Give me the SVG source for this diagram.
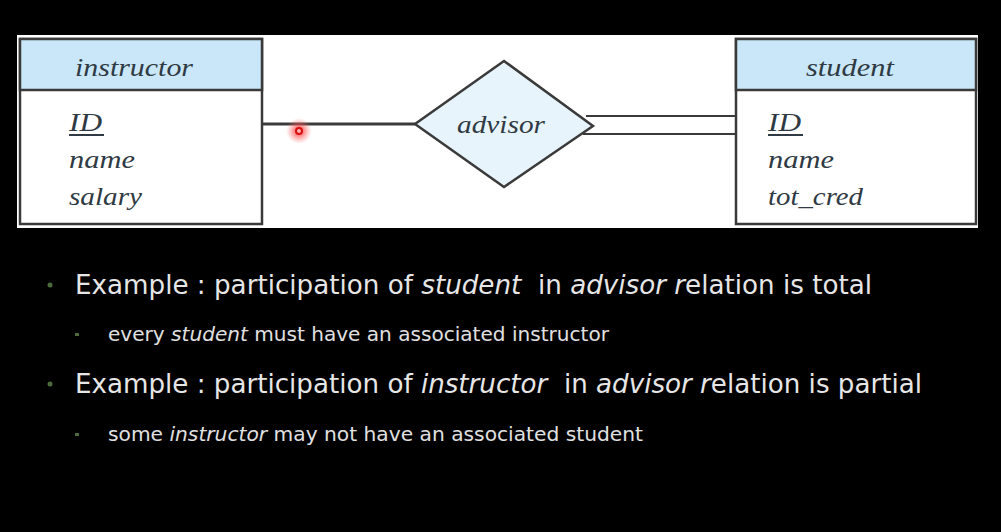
<svg xmlns="http://www.w3.org/2000/svg" width="1001" height="532" viewBox="0 0 1001 532">
<style>
.ent{fill:#ffffff;stroke:#3a3a3a;stroke-width:2.5}
.hdr{fill:#c9e7f8;stroke:#3a3a3a;stroke-width:2.5}
.er{font-family:"Liberation Serif",serif;font-style:italic;font-size:26px;fill:#2f3a44}
.conn{stroke:#3a3a3a;fill:none}
.b1{font-family:"DejaVu Sans","Liberation Sans",sans-serif;font-size:26px;fill:#e6e6e6}
.b2{font-family:"DejaVu Sans","Liberation Sans",sans-serif;font-size:20px;fill:#e0e0e0}
.it{font-style:italic}
.dot{fill:#4b6b3b}
</style>
<defs>
<radialGradient id="glow">
<stop offset="0" stop-color="#ff2020" stop-opacity="0.95"/>
<stop offset="0.45" stop-color="#ff5050" stop-opacity="0.55"/>
<stop offset="1" stop-color="#ff8080" stop-opacity="0"/>
</radialGradient>
</defs>
<rect width="1001" height="532" fill="#000000"/>
<rect x="17" y="35" width="961" height="193" fill="#ffffff"/>
<g id="connectors">
<line class="conn" x1="262" y1="124" x2="415" y2="124" stroke-width="3"/>
<line class="conn" x1="586" y1="116" x2="737" y2="116" stroke-width="2"/>
<line class="conn" x1="583" y1="134" x2="737" y2="134" stroke-width="2"/>
</g>
<g id="instructor">
<rect class="ent" x="20" y="39" width="242" height="185"/>
<rect class="hdr" x="20" y="39" width="242" height="51"/>
<text class="er" x="134" y="76" text-anchor="middle" textLength="118" lengthAdjust="spacingAndGlyphs">instructor</text>
<text class="er" x="69" y="131" textLength="33" lengthAdjust="spacingAndGlyphs">ID</text>
<line x1="69" y1="135" x2="104" y2="135" stroke="#2f3a44" stroke-width="2"/>
<text class="er" x="69" y="168" textLength="66" lengthAdjust="spacingAndGlyphs">name</text>
<text class="er" x="69" y="205" textLength="73" lengthAdjust="spacingAndGlyphs">salary</text>
</g>
<g id="advisor">
<polygon points="415,124 504,61 593,126 504,187" fill="#e8f4fc" stroke="#3a3a3a" stroke-width="2.5"/>
<text class="er" x="501" y="133" text-anchor="middle" textLength="88" lengthAdjust="spacingAndGlyphs">advisor</text>
</g>
<g id="student">
<rect class="ent" x="736" y="39" width="240" height="185"/>
<rect class="hdr" x="736" y="39" width="240" height="51"/>
<text class="er" x="850" y="76" text-anchor="middle" textLength="88" lengthAdjust="spacingAndGlyphs">student</text>
<text class="er" x="768" y="131" textLength="33" lengthAdjust="spacingAndGlyphs">ID</text>
<line x1="768" y1="135" x2="803" y2="135" stroke="#2f3a44" stroke-width="2"/>
<text class="er" x="768" y="168" textLength="66" lengthAdjust="spacingAndGlyphs">name</text>
<text class="er" x="768" y="205" textLength="95" lengthAdjust="spacingAndGlyphs">tot_cred</text>
</g>
<g id="pointer">
<circle cx="299" cy="131" r="13" fill="url(#glow)"/>
<circle cx="299" cy="131" r="3" fill="#ffb0b0" stroke="#d81010" stroke-width="2"/>
</g>
<g id="bullets">
<circle class="dot" cx="50" cy="285" r="2.5"/>
<rect class="dot" x="75" y="333" width="4" height="3"/>
<circle class="dot" cx="50" cy="384" r="2.5"/>
<rect class="dot" x="75" y="433" width="4" height="3"/>
<text class="b1" x="75" y="294" textLength="797" lengthAdjust="spacingAndGlyphs">Example : participation of <tspan class="it">student</tspan>&#160; in <tspan class="it">advisor r</tspan>elation is total</text>
<text class="b2" x="108" y="341" textLength="501" lengthAdjust="spacingAndGlyphs">every <tspan class="it">student</tspan> must have an associated instructor</text>
<text class="b1" x="75" y="393" textLength="847" lengthAdjust="spacingAndGlyphs">Example : participation of <tspan class="it">instructor</tspan>&#160; in <tspan class="it">advisor r</tspan>elation is partial</text>
<text class="b2" x="108" y="441" textLength="535" lengthAdjust="spacingAndGlyphs">some <tspan class="it">instructor</tspan> may not have an associated student</text>
</g>
</svg>
